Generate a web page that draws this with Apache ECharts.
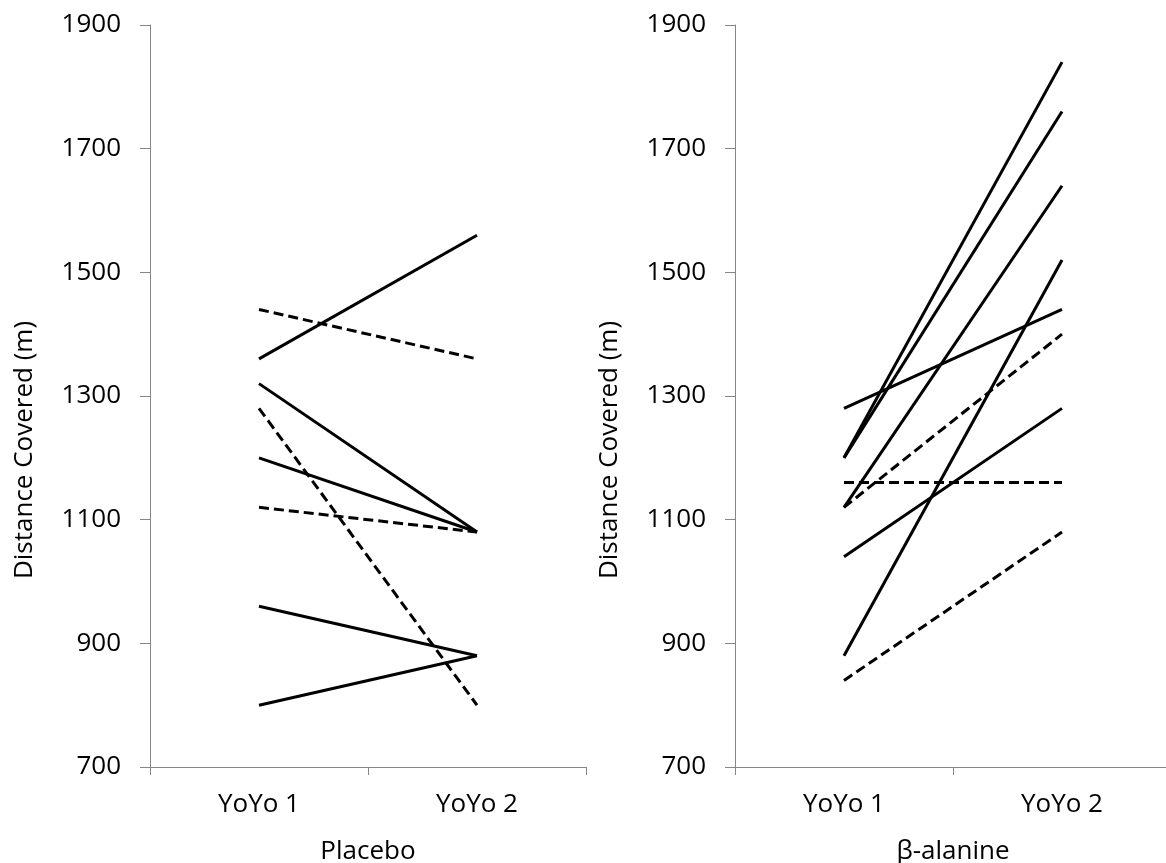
<!DOCTYPE html>
<html>
<head>
<meta charset="utf-8">
<script src="https://cdn.jsdelivr.net/npm/echarts@6/dist/echarts.min.js"></script>
<style>
html,body{margin:0;padding:0;background:#fff;}
#chart{width:1166px;height:863px;}
</style>
</head>
<body>
<div id="chart"></div>
<script>
const categories = ['YoYo 1', 'YoYo 2'];
const yTicks = { min: 700, max: 1900, interval: 200 };

// Placebo panel: start (YoYo 1), end (YoYo 2), dashed flag
const placeboYoYo1 = [1360, 1440, 1320, 1200, 1120, 1280, 960, 800];
const placeboYoYo2 = [1560, 1360, 1080, 1080, 1080, 800, 880, 880];
const placeboDashed = [false, true, false, false, true, true, false, false];

// beta-alanine panel
const betaYoYo1 = [1200, 1200, 1120, 880, 1280, 1120, 1040, 1160, 840];
const betaYoYo2 = [1840, 1760, 1640, 1520, 1440, 1400, 1280, 1160, 1080];
const betaDashed = [false, false, false, false, false, true, false, true, true];

const panelNames = ['Placebo', 'β-alanine'];
const yName = 'Distance Covered (m)';

const FONT = 'Open Sans';
const AXIS_COLOR = '#868686';

function makeSeries(starts, ends, dashed, idx) {
  return starts.map((s, i) => ({
    type: 'line',
    xAxisIndex: idx,
    yAxisIndex: idx,
    data: [s, ends[i]],
    symbol: 'none',
    silent: true,
    animation: false,
    lineStyle: { color: '#000', width: 3, type: dashed[i] ? [10, 5] : 'solid' }
  }));
}

function xAxis(idx) {
  return {
    type: 'category',
    gridIndex: idx,
    data: categories,
    boundaryGap: true,
    name: panelNames[idx],
    nameLocation: 'middle',
    nameGap: 72,
    nameTextStyle: { fontFamily: FONT, fontSize: 26, color: '#000' },
    axisLine: { show: true, lineStyle: { color: AXIS_COLOR, width: 1 } },
    axisTick: { show: true, length: 8, lineStyle: { color: AXIS_COLOR } },
    axisLabel: { fontFamily: FONT, fontSize: 26, color: '#000', margin: 25 },
    splitLine: { show: false }
  };
}

function yAxis(idx) {
  return {
    type: 'value',
    gridIndex: idx,
    min: yTicks.min,
    max: yTicks.max,
    interval: yTicks.interval,
    name: yName,
    nameLocation: 'middle',
    nameGap: 112,
    nameTextStyle: { fontFamily: FONT, fontSize: 26, color: '#000', padding: [0, 108, 0, 0] },
    axisLine: { show: true, lineStyle: { color: AXIS_COLOR, width: 1 } },
    axisTick: { show: true, length: 10, lineStyle: { color: AXIS_COLOR } },
    axisLabel: { fontFamily: FONT, fontSize: 26, color: '#000', margin: 29, formatter: v => String(v) },
    splitLine: { show: false }
  };
}

const chart = echarts.init(document.getElementById('chart'), null, { renderer: 'canvas' });
chart.setOption({
  backgroundColor: '#fff',
  animation: false,
  grid: [
    { left: 150, top: 25, width: 436, height: 742, containLabel: false, outerBoundsMode: 'none' },
    { left: 735, top: 25, width: 436, height: 742, containLabel: false, outerBoundsMode: 'none' }
  ],
  xAxis: [xAxis(0), xAxis(1)],
  yAxis: [yAxis(0), yAxis(1)],
  series: [
    ...makeSeries(placeboYoYo1, placeboYoYo2, placeboDashed, 0),
    ...makeSeries(betaYoYo1, betaYoYo2, betaDashed, 1)
  ]
});
</script>
</body>
</html>
